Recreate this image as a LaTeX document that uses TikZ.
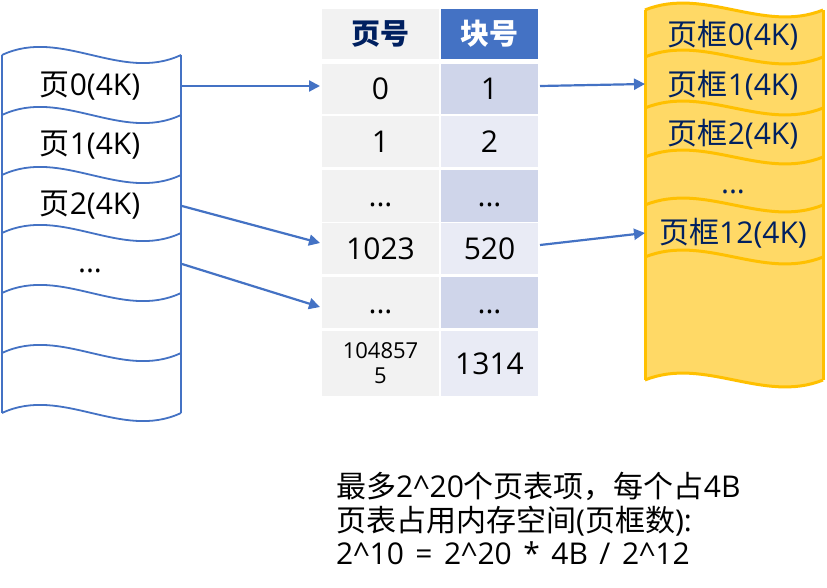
\documentclass[tikz,border=0pt]{standalone}
\usepackage{fontspec}
\setmainfont{Open Sans}
\newfontfamily\cjk{Noto Sans CJK SC}
\usetikzlibrary{arrows.meta}
\definecolor{blu}{HTML}{4472C4}
\definecolor{grayc}{HTML}{F2F2F2}
\definecolor{bdark}{HTML}{CFD5EA}
\definecolor{blight}{HTML}{E9EBF5}
\definecolor{navy}{HTML}{002060}
\definecolor{ygold}{HTML}{FFC000}
\definecolor{yfill}{HTML}{FFD966}
\newcommand{\wv}[4]{(#1,#3) .. controls ({#1+(#2-#1)/3},{#3-#4}) and ({#1+2*(#2-#1)/3},{#3+#4}) .. (#2,#3)}
\newcommand{\dd}{\vphantom{0}...}
\begin{document}
\begin{tikzpicture}[x=1pt,y=-1pt,
  big/.style={font=\fontsize{30}{34}\selectfont, inner sep=0},
  lstack/.style={draw=blu, line width=1.8pt},
  rstack/.style={draw=ygold, line width=3pt},
  pcell/.style={fill=grayc, minimum width=117pt, inner sep=0, font=\fontsize{30}{34}\selectfont},
  bcell/.style={minimum width=97pt, inner sep=0, font=\fontsize{30}{34}\selectfont},
  arr/.style={draw=blu, line width=2.2pt, -{Triangle[length=11pt,width=11pt]}}]
\useasboundingbox[fill=white] (0,0) rectangle (827,588);

% ---- left stack ----
\draw[lstack] (2,55) -- (2,413);
\draw[lstack] (181,55) -- (181,413);
\foreach \yy in {55,115,175,233,293,353,413}{
  \draw[lstack] \wv{2}{181}{\yy}{28};
}
\node[big] (p0) at (90,86) {{\cjk 页}0(4K)};
\node[big] (p1) at (90,145) {{\cjk 页}1(4K)};
\node[big] (p2) at (90,205) {{\cjk 页}2(4K)};
\node[big] (pd) at (90,262) {\dd};

% ---- table ----
\node[pcell, minimum height=50pt, text=navy, font=\fontsize{29}{34}\selectfont\cjk\bfseries] (h1) at (380.5,34) {页号};
\node[bcell, minimum height=50pt, fill=blu, text=white, font=\fontsize{29}{34}\selectfont\cjk\bfseries] (h2) at (489.5,34) {块号};
\node[pcell, minimum height=50pt] (c00) at (380.5,89) {0};
\node[bcell, minimum height=50pt, fill=bdark] (c01) at (489.5,89) {1};
\node[pcell, minimum height=51pt] (c10) at (380.5,141.5) {1};
\node[bcell, minimum height=51pt, fill=blight] (c11) at (489.5,141.5) {2};
\node[pcell, minimum height=52pt] (c20) at (380.5,196) {\dd};
\node[bcell, minimum height=52pt, fill=bdark] (c21) at (489.5,196) {\dd};
\node[pcell, minimum height=51pt] (c30) at (380.5,248.5) {1023};
\node[bcell, minimum height=51pt, fill=blight] (c31) at (489.5,248.5) {520};
\node[pcell, minimum height=51pt] (c40) at (380.5,302.5) {\dd};
\node[bcell, minimum height=51pt, fill=bdark] (c41) at (489.5,302.5) {\dd};
\node[pcell, minimum height=65pt, align=center, font=\fontsize{22}{25}\selectfont] (c50) at (380.5,363.5) {104857\\5};
\node[bcell, minimum height=65pt, fill=blight] (c51) at (489.5,363.5) {1314};

% ---- right stack ----
\fill[yfill] (645,10) .. controls (704.3,-14) and (763.7,34) .. (823,10) -- (823,380)
  .. controls (763.7,404) and (704.3,356) .. (645,380) -- cycle;
\draw[rstack] (645,10) -- (645,380);
\draw[rstack] (823,10) -- (823,380);
\foreach \yy in {10,57,108,157,205,257,380}{
  \draw[rstack] \wv{645}{823}{\yy}{24};
}
\node[big, text=navy] (f0) at (733,35) {{\cjk 页框}0(4K)};
\node[big, text=navy] (f1) at (733,85) {{\cjk 页框}1(4K)};
\node[big, text=navy] (f2) at (733,134) {{\cjk 页框}2(4K)};
\node[big, text=navy] (fd) at (733,183) {\dd};
\node[big, text=navy] (f12) at (733,233) {{\cjk 页框}12(4K)};

% ---- connectors ----
\coordinate (a1s) at (182,86);  \coordinate (a1e) at (320,86);
\coordinate (a2s) at (182,206); \coordinate (a2e) at (320,243);
\coordinate (a3s) at (182,264); \coordinate (a3e) at (320,307);
\coordinate (a4s) at (540,86);  \coordinate (a4e) at (645,84);
\coordinate (a5s) at (540,245); \coordinate (a5e) at (645,233);
\draw[arr] (a1s) -- (a1e);
\draw[arr] (a2s) -- (a2e);
\draw[arr] (a3s) -- (a3e);
\draw[arr] (a4s) -- (a4e);
\draw[arr] (a5s) -- (a5e);

% ---- note ----
\node[big, anchor=base west] (note1) at (336,497) {{\cjk 最多}2\^{}20{\cjk 个页表项，每个占}4B};
\node[big, anchor=base west] (note2) at (336,531) {{\cjk 页表占用内存空间}({\cjk 页框数}):};
\node[big, anchor=base west] (note3) at (336,564) {\spaceskip=11.5pt 2\^{}10 = 2\^{}20 * 4B / 2\^{}12};
\end{tikzpicture}
\end{document}
